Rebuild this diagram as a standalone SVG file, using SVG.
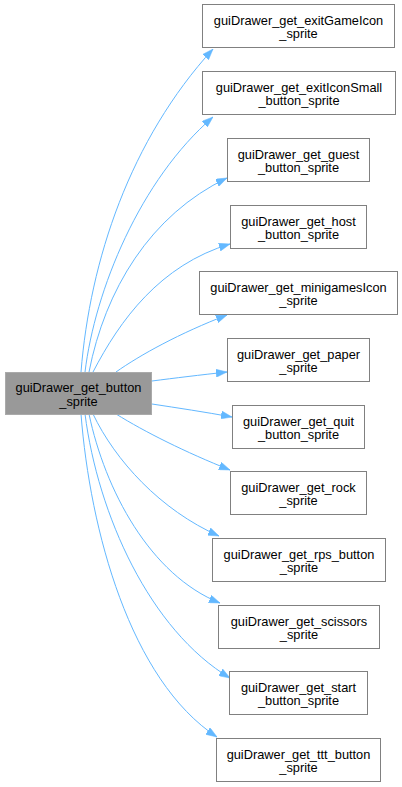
<svg xmlns="http://www.w3.org/2000/svg" width="402" height="787" viewBox="0 0 402 787">
<style>
.n rect{fill:#ffffff;stroke:#808080;stroke-width:1}
#root rect{fill:#999999;stroke:#aaaaaa}
text{font-family:"Liberation Sans",Arial,sans-serif;font-size:12.8px;fill:#000;text-anchor:middle}
.e path{fill:none;stroke:#63b8ff;stroke-width:1;marker-end:url(#ah)}
</style>
<defs>
<marker id="ah" markerUnits="userSpaceOnUse" markerWidth="11" markerHeight="8" refX="11" refY="4" orient="auto">
<path d="M0,0 L11,4 L0,8 z" fill="#63b8ff" stroke="#63b8ff" stroke-width="0.5"/>
</marker>
</defs>
<rect width="402" height="787" fill="#ffffff"/>
<g id="edges" class="e">
<path d="M81,372 C90,260 130,140 213,49"/>
<path d="M85,372 C95,290 140,180 213,117"/>
<path d="M89,372 C105,290 150,215 227,178"/>
<path d="M93,372 C120,320 160,265 230,244"/>
<path d="M116,372 C140,355 180,333 227,315"/>
<path d="M152,381 C175,378 200,375 227,372"/>
<path d="M152,404 C178,408 205,412 232,417"/>
<path d="M116,414 C145,432 185,452 230,470"/>
<path d="M93,414 C115,460 160,510 219,536"/>
<path d="M89,414 C105,490 150,575 220,603"/>
<path d="M85,414 C98,515 150,630 230,678"/>
<path d="M81,414 C90,530 130,680 217,737"/>
</g>
<g id="root" class="n"><rect x="5.5" y="372.5" width="146" height="42"/><text x="78.5" y="392">guiDrawer_get_button</text><text x="78.5" y="405.5">_sprite</text></g>
<g id="n1" class="n"><rect x="202.5" y="4.5" width="192" height="43"/><text x="298.5" y="24.5">guiDrawer_get_exitGameIcon</text><text x="298.5" y="38">_sprite</text></g>
<g id="n2" class="n"><rect x="202.5" y="71.5" width="193" height="43"/><text x="299" y="91.5">guiDrawer_get_exitIconSmall</text><text x="299" y="105">_button_sprite</text></g>
<g id="n3" class="n"><rect x="227.5" y="138.5" width="142" height="43"/><text x="298.5" y="158.5">guiDrawer_get_guest</text><text x="298.5" y="172">_button_sprite</text></g>
<g id="n4" class="n"><rect x="230.5" y="205.5" width="136" height="43"/><text x="298.5" y="225.5">guiDrawer_get_host</text><text x="298.5" y="239">_button_sprite</text></g>
<g id="n5" class="n"><rect x="199.5" y="271.5" width="198" height="43"/><text x="298.5" y="291.5">guiDrawer_get_minigamesIcon</text><text x="298.5" y="305">_sprite</text></g>
<g id="n6" class="n"><rect x="227.5" y="338.5" width="142" height="43"/><text x="298.5" y="358.5">guiDrawer_get_paper</text><text x="298.5" y="372">_sprite</text></g>
<g id="n7" class="n"><rect x="232.5" y="405.5" width="132" height="43"/><text x="298.5" y="425.5">guiDrawer_get_quit</text><text x="298.5" y="439">_button_sprite</text></g>
<g id="n8" class="n"><rect x="230.5" y="471.5" width="136" height="43"/><text x="298.5" y="491.5">guiDrawer_get_rock</text><text x="298.5" y="505">_sprite</text></g>
<g id="n9" class="n"><rect x="212.5" y="538.5" width="173" height="43"/><text x="299" y="558.5">guiDrawer_get_rps_button</text><text x="299" y="572">_sprite</text></g>
<g id="n10" class="n"><rect x="218.5" y="605.5" width="161" height="43"/><text x="299" y="625.5">guiDrawer_get_scissors</text><text x="299" y="639">_sprite</text></g>
<g id="n11" class="n"><rect x="229.5" y="671.5" width="138" height="43"/><text x="298.5" y="691.5">guiDrawer_get_start</text><text x="298.5" y="705">_button_sprite</text></g>
<g id="n12" class="n"><rect x="216.5" y="738.5" width="164" height="43"/><text x="298.5" y="758.5">guiDrawer_get_ttt_button</text><text x="298.5" y="772">_sprite</text></g>
</svg>
